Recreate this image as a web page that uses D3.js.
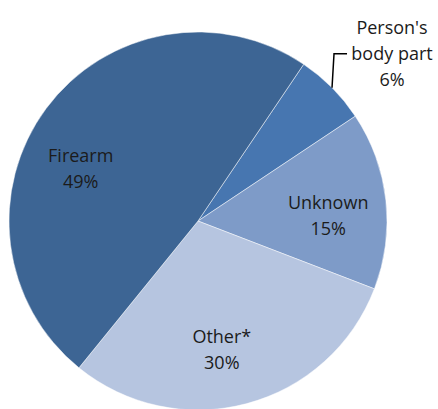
<!DOCTYPE html>
<html>
<head>
<meta charset="utf-8">
<script src="https://cdn.jsdelivr.net/npm/d3@7"></script>
<style>
  body { margin: 0; background: #fff; }
  text { font-family: "Open Sans", "Noto Sans", sans-serif; font-size: 18px; fill: #1b1b1b; }
</style>
</head>
<body>
<svg width="438" height="409"></svg>
<script>
// slices, clockwise starting just right of 12 o'clock
var categories = ["Person's body part", "Unknown", "Other*", "Firearm"];
var values = [6.2, 15.2, 30.0, 48.6];
var labelLines = [["Person's", "body part", "6%"], ["Unknown", "15%"], ["Other*", "30%"], ["Firearm", "49%"]];
var colors = ["#4776B0", "#7E9BC8", "#B6C5E0", "#3D6594"];

var svg = d3.select("svg"),
    width = +svg.attr("width"),
    height = +svg.attr("height"),
    radius = 189,
    cx = 198, cy = 221,
    startAngle = 34 * Math.PI / 180,
    g = svg.append("g").attr("transform", "translate(" + cx + "," + cy + ")");

var data = categories.map(function(c, i) { return {name: c, value: values[i], lines: labelLines[i], color: colors[i]}; });

var pie = d3.pie()
    .sort(null)
    .value(function(d) { return d.value; })
    .startAngle(startAngle)
    .endAngle(startAngle + 2 * Math.PI);

var arcs = pie(data);

var arc = d3.arc().innerRadius(0).outerRadius(radius);
var labelArc = d3.arc().innerRadius(131).outerRadius(131);
var edgeArc = d3.arc().innerRadius(radius).outerRadius(radius);

g.selectAll("path")
  .data(arcs)
  .enter().append("path")
    .attr("d", arc)
    .attr("fill", function(d) { return d.data.color; })
    .attr("stroke", "#ffffff")
    .attr("stroke-opacity", 0.6)
    .attr("stroke-width", 0.8);

// small nudges so labels sit where the original placed them
var nudge = {"Firearm": [-12, 26], "Other*": [-10, 2], "Unknown": [0, 9]};
var lineH = 26;

arcs.forEach(function(d) {
  var lines = d.data.lines, x, y;
  if (d.data.name === "Person's body part") {
    // outside label with leader line
    var p = edgeArc.centroid(d);
    var elbow = [p[0] + 2, p[1] - 34];
    g.append("path")
      .attr("d", "M" + p[0] + "," + p[1] + "L" + elbow[0] + "," + elbow[1] + "H" + (elbow[0] + 13))
      .attr("fill", "none")
      .attr("stroke", "#000")
      .attr("stroke-width", 1.5);
    x = elbow[0] + 58;
    y = elbow[1] - lineH;
  } else {
    var c = labelArc.centroid(d), n = nudge[d.data.name] || [0, 0];
    x = c[0] + n[0];
    y = c[1] + n[1] - (lines.length - 1) * lineH / 2;
  }
  var t = g.append("text").attr("text-anchor", "middle");
  lines.forEach(function(l, i) {
    t.append("tspan")
      .attr("x", x)
      .attr("y", y + i * lineH)
      .attr("dy", "0.35em")
      .text(l);
  });
});
</script>
</body>
</html>
